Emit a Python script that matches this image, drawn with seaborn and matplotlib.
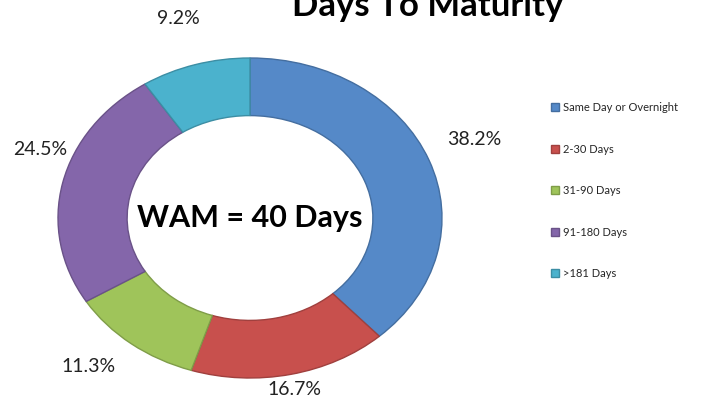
import numpy as np
import seaborn as sns
import matplotlib.pyplot as plt
from matplotlib.colors import to_rgb

# -----------------------------------------------------
# Data
# -----------------------------------------------------
categories = ["Same Day or Overnight", "2-30 Days", "31-90 Days",
              "91-180 Days", ">181 Days"]
shares = [38.2, 16.7, 11.3, 24.5, 9.2]
pct_labels = ["38.2%", "16.7%", "11.3%", "24.5%", "9.2%"]
colors = ["#5589C8", "#C8504D", "#9FC45A", "#8466AA", "#4BB2CD"]

title = "Days To Maturity"
center_text = "WAM = 40 Days"

# per-label distance from centre (layout only)
label_radius = [1.25, 1.10, 1.36, 1.12, 1.30]
label_lift = [0.04, 0.0, 0.14, 0.18, 0.0]

# -----------------------------------------------------
# Figure
# -----------------------------------------------------
sns.set_theme(style="white")
plt.rcParams["font.family"] = ["Lato", "DejaVu Sans"]

palette = sns.color_palette(colors)

W, H = 708, 400
fig = plt.figure(figsize=(W / 100, H / 100), dpi=100)

# pie axes, centre at (250, 182) px, rx=192, ry=160
cx, cy, rx, ry, lim = 250, 182, 192, 160, 1.3
ax = fig.add_axes([
    (cx - lim * rx) / W, (cy - lim * ry) / H,
    2 * lim * rx / W, 2 * lim * ry / H
])

edge_cols = [tuple(c * 0.8 for c in to_rgb(col)) for col in palette]

wedges, _ = ax.pie(
    shares,
    colors=palette,
    startangle=90,
    counterclock=False,
    radius=1.0,
    wedgeprops=dict(width=0.36, linewidth=1.0),
)
for w, ec in zip(wedges, edge_cols):
    w.set_edgecolor(ec)

ax.set_aspect("auto")
ax.set_xlim(-lim, lim)
ax.set_ylim(-lim, lim)
ax.axis("off")

for w, lab, r, lift in zip(wedges, pct_labels, label_radius, label_lift):
    ang = np.deg2rad((w.theta1 + w.theta2) / 2)
    ax.text(r * np.cos(ang), r * np.sin(ang) + lift, lab,
            ha="center", va="center", fontsize=14, color="#222222")

ax.text(0, 0, center_text, ha="center", va="center",
        fontsize=22, fontweight="bold", color="black")

fig.text(428 / W, 1 - 16 / H, title, ha="center", va="baseline",
         fontsize=25, fontweight="bold", color="black")

leg = fig.legend(
    wedges, categories,
    loc="upper left",
    bbox_to_anchor=(541 / W, 1 - 92 / H),
    frameon=False,
    fontsize=8,
    handlelength=0.7,
    handleheight=0.7,
    handletextpad=0.4,
    labelspacing=2.75,
)

fig.savefig("out.png", dpi=100)
